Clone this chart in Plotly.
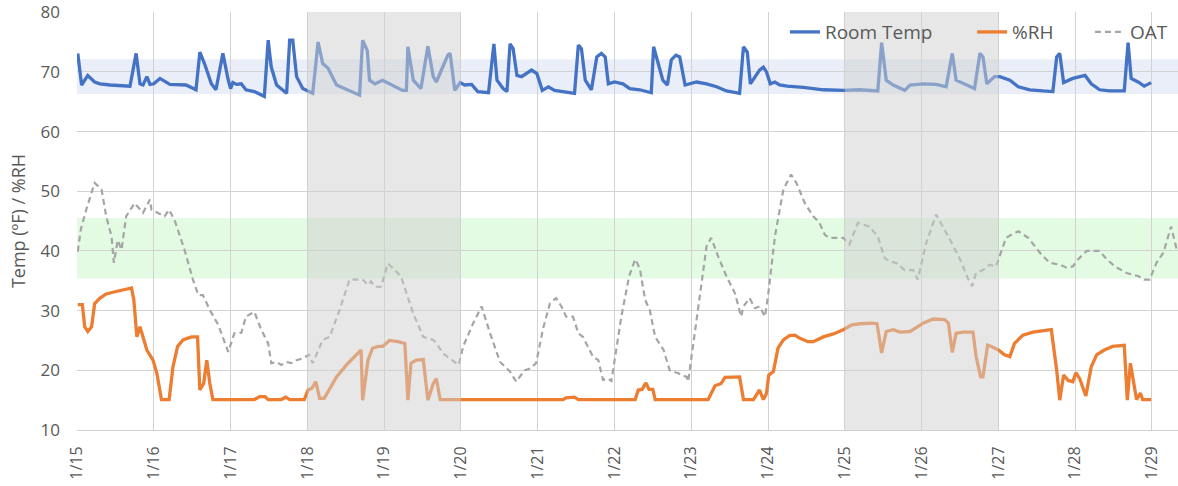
import plotly.graph_objects as go

# x positions are days after 1/15
day_labels = ["1/15", "1/16", "1/17", "1/18", "1/19", "1/20", "1/21", "1/22",
              "1/23", "1/24", "1/25", "1/26", "1/27", "1/28", "1/29"]

room_t = [0.01, 0.06, 0.14, 0.23, 0.30, 0.43, 0.69, 0.77, 0.82, 0.86, 0.91, 0.95, 1.00, 1.08,
          1.21, 1.42, 1.55, 1.60, 1.66, 1.75, 1.81, 1.90, 1.97, 2.00, 2.03, 2.08, 2.14, 2.20,
          2.31, 2.44, 2.49, 2.53, 2.60, 2.70, 2.73, 2.77, 2.81, 2.86, 2.94, 3.07, 3.14, 3.20,
          3.27, 3.38, 3.55, 3.68, 3.72, 3.78, 3.81, 3.88, 3.98, 4.07, 4.24, 4.29, 4.31, 4.38,
          4.48, 4.57, 4.64, 4.68, 4.83, 4.86, 4.92, 4.99, 5.05, 5.14, 5.22, 5.36, 5.43, 5.47,
          5.55, 5.60, 5.64, 5.68, 5.73, 5.79, 5.85, 5.92, 5.99, 6.06, 6.14, 6.22, 6.48, 6.53,
          6.57, 6.62, 6.70, 6.77, 6.83, 6.88, 6.92, 7.00, 7.11, 7.20, 7.33, 7.48, 7.51, 7.57,
          7.63, 7.69, 7.74, 7.80, 7.85, 7.92, 8.07, 8.20, 8.33, 8.46, 8.63, 8.68, 8.73, 8.77,
          8.89, 8.94, 8.98, 9.03, 9.09, 9.15, 9.25, 9.46, 9.72, 9.98, 10.19, 10.43, 10.48,
          10.54, 10.63, 10.78, 10.85, 11.02, 11.19, 11.32, 11.40, 11.45, 11.58, 11.69, 11.76,
          11.80, 11.85, 11.95, 12.02, 12.15, 12.26, 12.41, 12.58, 12.71, 12.76, 12.80, 12.85,
          12.97, 13.13, 13.21, 13.32, 13.45, 13.64, 13.69, 13.73, 13.82, 13.90, 13.95, 13.99]
room_v = [73.1, 67.8, 69.4, 68.3, 68.0, 67.8, 67.6, 73.1, 68.0, 67.8, 69.2, 67.9, 68.0, 68.9,
          67.9, 67.8, 67.0, 73.3, 71.4, 68.0, 67.0, 73.1, 68.6, 67.2, 68.2, 67.9, 68.0, 67.0,
          66.7, 65.9, 75.3, 70.8, 67.8, 66.7, 66.4, 75.3, 75.3, 69.2, 67.2, 66.4, 75.0, 71.4,
          70.6, 67.8, 66.9, 66.1, 75.3, 73.6, 68.6, 68.0, 68.6, 68.0, 66.9, 66.9, 74.2, 68.6,
          67.2, 74.3, 69.2, 68.3, 72.8, 73.1, 66.9, 68.2, 67.8, 67.9, 66.7, 66.5, 74.7, 68.6,
          67.2, 66.7, 74.7, 73.9, 69.4, 69.2, 69.7, 70.3, 69.7, 66.9, 67.5, 66.9, 66.4, 74.5,
          73.9, 68.6, 67.0, 72.5, 73.1, 72.5, 68.0, 68.3, 68.0, 67.2, 67.0, 66.5, 74.2, 71.4,
          68.6, 67.8, 72.0, 72.8, 72.5, 67.8, 68.3, 68.0, 67.5, 66.8, 66.4, 74.2, 73.3, 68.0,
          70.3, 70.8, 70.0, 68.0, 68.3, 67.8, 67.6, 67.4, 67.0, 66.9, 67.0, 66.8, 74.9,
          68.6, 67.8, 66.9, 67.8, 68.0, 67.9, 67.5, 73.1, 68.6, 67.8, 67.2, 73.1,
          72.5, 68.0, 69.2, 69.2, 68.6, 67.5, 67.0, 66.8, 66.7, 72.5, 73.1, 68.2,
          68.9, 69.4, 68.0, 67.0, 66.8, 66.8, 74.9, 68.9, 68.3, 67.6, 68.0, 68.2]

rh_t = [0.01, 0.07, 0.10, 0.14, 0.19, 0.23, 0.30, 0.38, 0.51, 0.60, 0.71, 0.74, 0.78, 0.82,
        0.86, 0.91, 0.99, 1.04, 1.10, 1.20, 1.25, 1.31, 1.38, 1.49, 1.57, 1.60, 1.65, 1.69,
        1.73, 1.77, 2.31, 2.38, 2.45, 2.49, 2.66, 2.72, 2.77, 2.96, 3.01, 3.06, 3.11, 3.16,
        3.22, 3.38, 3.51, 3.64, 3.70, 3.72, 3.79, 3.85, 3.92, 3.98, 4.07, 4.18, 4.27, 4.31,
        4.35, 4.42, 4.51, 4.57, 4.64, 4.68, 4.73, 6.33, 6.37, 6.48, 6.53, 7.27, 7.31, 7.36,
        7.41, 7.45, 7.50, 7.53, 8.22, 8.31, 8.39, 8.44, 8.63, 8.68, 8.81, 8.89, 8.94, 8.98,
        9.01, 9.07, 9.13, 9.20, 9.28, 9.35, 9.41, 9.52, 9.59, 9.72, 9.85, 9.98, 10.09, 10.20,
        10.35, 10.42, 10.48, 10.54, 10.63, 10.72, 10.85, 11.02, 11.15, 11.30, 11.35, 11.40,
        11.45, 11.54, 11.67, 11.71, 11.77, 11.80, 11.86, 11.91, 12.00, 12.08, 12.15, 12.21,
        12.32, 12.45, 12.58, 12.69, 12.76, 12.80, 12.85, 12.91, 12.97, 13.01, 13.06, 13.14,
        13.21, 13.28, 13.38, 13.49, 13.64, 13.68, 13.72, 13.80, 13.85, 13.88, 13.99]
rh_v = [31.0, 31.0, 27.3, 26.5, 27.3, 31.2, 32.1, 32.8, 33.2, 33.5, 33.8, 31.8, 25.6, 27.3,
        25.6, 23.4, 21.7, 19.5, 15.1, 15.1, 20.6, 24.0, 25.1, 25.6, 25.6, 16.7, 17.8, 21.7,
        17.8, 15.1, 15.1, 15.6, 15.6, 15.1, 15.1, 15.5, 15.1, 15.1, 16.7, 17.0, 18.1, 15.3,
        15.3, 18.9, 20.9, 22.6, 23.4, 15.0, 21.7, 23.7, 24.0, 24.0, 25.0, 24.8, 24.5, 15.0,
        21.2, 21.7, 21.8, 15.0, 17.8, 18.6, 15.1, 15.1, 15.4, 15.5, 15.1, 15.1, 16.7, 16.8,
        17.9, 16.8, 16.8, 15.1, 15.1, 17.4, 17.8, 18.8, 18.9, 15.1, 15.1, 16.7, 15.1, 16.1,
        19.2, 19.8, 23.7, 25.1, 25.8, 25.9, 25.4, 24.8, 24.8, 25.6, 26.1, 26.8, 27.6, 27.8,
        27.9, 27.8, 22.9, 26.5, 26.8, 26.4, 26.5, 27.9, 28.6, 28.5, 27.9, 23.0,
        26.2, 26.4, 26.4, 22.3, 18.9, 18.9, 24.2, 24.0, 23.4, 22.6, 22.3, 24.5,
        25.9, 26.4, 26.6, 26.8, 20.0, 15.0, 19.2, 18.3, 18.1, 19.6, 18.6, 15.7,
        20.6, 22.6, 23.4, 24.0, 24.2, 15.0, 21.2, 15.1, 16.2, 15.1, 15.1]

oat_t = [0.01, 0.05, 0.12, 0.23, 0.32, 0.38, 0.45, 0.48, 0.53, 0.58, 0.64, 0.75, 0.86, 0.95,
         0.97, 1.05, 1.14, 1.20, 1.27, 1.40, 1.51, 1.58, 1.64, 1.73, 1.84, 1.97, 2.05, 2.14,
         2.20, 2.31, 2.40, 2.49, 2.53, 2.60, 2.66, 2.73, 2.79, 2.86, 2.94, 3.02, 3.07, 3.20,
         3.29, 3.42, 3.55, 3.72, 3.79, 3.83, 3.88, 3.96, 4.05, 4.14, 4.22, 4.38, 4.51, 4.64,
         4.68, 4.77, 4.86, 4.97, 5.03, 5.16, 5.27, 5.38, 5.51, 5.64, 5.72, 5.83, 5.90, 5.98,
         6.07, 6.16, 6.24, 6.31, 6.37, 6.46, 6.53, 6.59, 6.72, 6.79, 6.85, 6.92, 6.96, 7.09,
         7.19, 7.27, 7.33, 7.40, 7.46, 7.53, 7.64, 7.72, 7.83, 7.94, 7.96, 8.02, 8.11, 8.20,
         8.26, 8.35, 8.46, 8.57, 8.65, 8.68, 8.76, 8.83, 8.89, 8.96, 9.00, 9.09, 9.20, 9.30,
         9.37, 9.48, 9.59, 9.67, 9.74, 9.80, 9.98, 10.06, 10.17, 10.32, 10.43, 10.52, 10.59,
         10.67, 10.78, 10.89, 10.95, 11.06, 11.19, 11.35, 11.50, 11.61, 11.66, 11.71, 11.80,
         11.89, 11.97, 12.10, 12.17, 12.26, 12.39, 12.47, 12.56, 12.67, 12.80, 12.89, 12.97,
         13.04, 13.15, 13.32, 13.41, 13.52, 13.67, 13.82, 13.90, 13.97, 14.06, 14.15, 14.25,
         14.33]
oat_v = [39.9, 43.6, 46.9, 51.4, 50.3, 45.8, 42.4, 38.0, 41.8, 40.2, 45.8, 48.0, 46.4, 48.6,
         46.9, 46.4, 45.8, 46.9, 45.2, 40.2, 35.2, 32.6, 32.6, 30.1, 27.6, 23.1, 26.2, 26.3,
         29.0, 29.8, 26.8, 24.5, 21.2, 21.4, 20.9, 21.4, 21.2, 21.7, 22.0, 22.6, 21.2, 25.1,
         25.6, 30.1, 35.2, 35.2, 34.3, 34.9, 34.0, 34.0, 37.9, 36.8, 35.7, 29.5, 25.6, 25.1,
         24.5, 22.8, 22.0, 20.9, 24.0, 27.9, 30.7, 26.2, 21.4, 19.8, 18.1, 20.0, 20.3, 21.2,
         27.0, 31.2, 32.1, 30.7, 29.0, 29.0, 26.2, 25.6, 22.3, 21.7, 18.4, 18.6, 18.2, 29.0,
         35.7, 38.6, 37.1, 31.8, 30.1, 25.6, 23.4, 20.0, 19.5, 18.9, 18.1, 24.0, 32.4, 40.8,
         42.2, 39.1, 35.7, 32.9, 29.0, 30.7, 32.1, 30.4, 30.7, 29.0, 32.4, 42.4, 50.3, 52.8,
         51.4, 48.0, 45.8, 44.7, 42.7, 42.2, 42.2, 41.1, 44.7, 44.1, 42.4, 38.8, 38.2,
         38.0, 36.8, 36.8, 35.2, 41.3, 46.1, 42.4, 38.6, 35.2, 34.1, 36.3, 36.8,
         37.7, 37.4, 42.2, 42.7, 43.3, 42.2, 40.8, 39.4, 38.0, 37.7, 37.2, 37.4,
         38.6, 40.0, 40.0, 38.6, 37.4, 36.3, 35.8, 35.2, 35.2, 38.0, 39.7, 44.1,
         39.9]

temp_band = [66.3, 72.1]
oat_band = [35.4, 45.5]
shaded_days = [(3, 5), (10, 12)]

FONT = "Open Sans"
TXT = "#595959"

fig = go.Figure()
fig.add_trace(go.Scatter(x=room_t, y=room_v, name="Room Temp", mode="lines", legend="legend",
                         line=dict(color="#4472C4", width=3.3)))
fig.add_trace(go.Scatter(x=rh_t, y=rh_v, name="%RH", mode="lines", legend="legend2",
                         line=dict(color="#ED7D31", width=3.3)))
fig.add_trace(go.Scatter(x=oat_t, y=oat_v, name="OAT", mode="lines", legend="legend3",
                         line=dict(color="#A5A5A5", width=2.2, dash="6px,4px")))

shapes = [
    dict(type="rect", xref="paper", yref="y", x0=0, x1=1, y0=temp_band[0], y1=temp_band[1],
         fillcolor="#e9eef8", line=dict(width=0), layer="below"),
    dict(type="rect", xref="paper", yref="y", x0=0, x1=1, y0=oat_band[0], y1=oat_band[1],
         fillcolor="#e3fbe3", line=dict(width=0), layer="below"),
]
for a, b in shaded_days:
    shapes.append(dict(type="rect", xref="x", yref="paper", x0=a, x1=b, y0=0, y1=1,
                       fillcolor="#d0d0d0", opacity=0.5, line=dict(width=0), layer="above"))

leg_common = dict(orientation="h", xanchor="left", y=0.952, yanchor="middle",
                  bgcolor="rgba(0,0,0,0)", font=dict(size=19, color=TXT), itemwidth=30)

fig.update_layout(
    width=1178, height=486,
    margin=dict(l=77, r=0, t=12, b=56, autoexpand=False),
    paper_bgcolor="white", plot_bgcolor="white",
    font=dict(family=FONT, color=TXT, size=16),
    shapes=shapes,
    showlegend=True,
    legend=dict(x=0.643, **leg_common),
    legend2=dict(x=0.813, **leg_common),
    legend3=dict(x=0.920, **leg_common),
    xaxis=dict(range=[0, 14.34], tickmode="array", tickvals=list(range(len(day_labels))),
               ticktext=day_labels, tickangle=-90, showgrid=True, gridcolor="#d2d2d2",
               gridwidth=1, zeroline=False, showline=True, linecolor="#d2d2d2",
               ticks="", ticklabelstandoff=9, automargin=False,
               tickfont=dict(size=16, color=TXT)),
    yaxis=dict(range=[10, 80.03], tickmode="array", tickvals=[10, 20, 30, 40, 50, 60, 70, 80],
               showgrid=True, gridcolor="#d2d2d2", gridwidth=1, zeroline=False,
               showline=False, ticks="", ticklabelstandoff=16, automargin=False,
               tickfont=dict(size=17, color=TXT),
               title=dict(text="Temp (ºF) / %RH", font=dict(size=18, color=TXT), standoff=10)),
)

fig.write_html("out.html", config={"displayModeBar": False},
               post_script="document.body.style.margin='0px';")
